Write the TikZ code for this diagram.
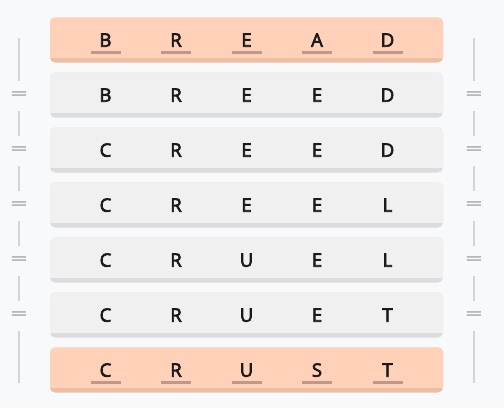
\documentclass[tikz,border=0pt]{standalone}
\usepackage{fontspec}
\setmainfont{Open Sans}
\newfontfamily\tilefont[FakeBold=3.5]{Open Sans}

\definecolor{pagebg}{HTML}{F8F9FB}
\definecolor{peach}{HTML}{FFD1B8}
\definecolor{peachedge}{HTML}{EEBEA4}
\definecolor{rowgray}{HTML}{F0F0F0}
\definecolor{rowedge}{HTML}{DCDCDE}
\definecolor{barbrown}{HTML}{C0988A}
\definecolor{ink}{HTML}{1A1A1A}
\definecolor{railgray}{HTML}{D4D4D8}
\definecolor{eqgray}{HTML}{8C8C8C}

\begin{document}
\begin{tikzpicture}[x=1pt,y=-1pt,
  letter/.style={font=\tilefont\fontsize{18.5}{18.5}\selectfont,text=ink,inner sep=0pt,anchor=base},
  eqsign/.style={font=\fontsize{26}{26}\selectfont,text=eqgray,inner sep=0pt,minimum height=30pt},
  rail/.style={draw=railgray,line width=2pt},
  underbar/.style={draw=barbrown,line width=3pt}]

% Background
\fill[pagebg] (0,0) rectangle (504,408);

% Word ladder rows
\foreach \word [count=\r from 0] in {{B,R,E,A,D},{B,R,E,E,D},{C,R,E,E,D},{C,R,E,E,L},{C,R,U,E,L},{C,R,U,E,T},{C,R,U,S,T}}{
  \pgfmathsetmacro\yc{40+55*\r}
  \pgfmathtruncatemacro\hl{(\r==0)||(\r==6)}
  \ifnum\hl=1 \def\main{peach}\def\edge{peachedge}\else \def\main{rowgray}\def\edge{rowedge}\fi
  % box with darker bottom strip
  \fill[\edge,rounded corners=5pt] (50,{\yc-22.5}) rectangle (443,{\yc+22.5});
  \fill[\main,rounded corners=5pt] (50,{\yc-22.5}) rectangle (443,{\yc+17.5});
  \fill[\main] (50,{\yc+10}) rectangle (443,{\yc+17.5});
  % letters
  \foreach \ch [count=\c from 0] in \word {
    \node[letter] (w\r-\c) at ({105.5+70.5*\c},{\yc+6.7}) {\ch};
    \ifnum\hl=1
      \draw[underbar] ([xshift=-15pt,yshift=-5.4pt]w\r-\c.base) -- ([xshift=15pt,yshift=-5.4pt]w\r-\c.base);
    \fi
  }
}

% Side rails with equal signs
\foreach \side/\xs in {L/19,R/474}{
  \coordinate (\side top) at (\xs,38);
  \coordinate (\side bot) at (\xs,383);
  \foreach \k in {1,...,5}
    \node[eqsign] (\side eq\k) at (\xs,{41+55*\k}) {\scalebox{1.2}[0.6]{=}};
  \draw[rail] (\side top) -- (\side eq1);
  \draw[rail] (\side eq1) -- (\side eq2);
  \draw[rail] (\side eq2) -- (\side eq3);
  \draw[rail] (\side eq3) -- (\side eq4);
  \draw[rail] (\side eq4) -- (\side eq5);
  \draw[rail] (\side eq5) -- (\side bot);
}

\end{tikzpicture}
\end{document}
